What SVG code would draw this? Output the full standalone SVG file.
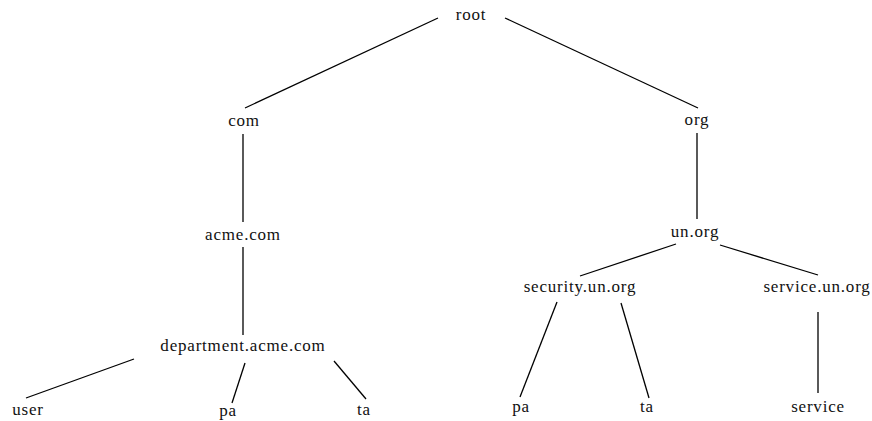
<svg xmlns="http://www.w3.org/2000/svg" width="872" height="421" viewBox="0 0 872 421">
<style>
line{stroke:#000;stroke-width:1.3}
</style>
<rect width="872" height="421" fill="#fff"/>
<g id="connectors">
<line x1="438" y1="18" x2="245" y2="108"/>
<line x1="505" y1="18" x2="698" y2="108"/>
<line x1="243" y1="134" x2="243" y2="222"/>
<line x1="243" y1="247" x2="243" y2="335"/>
<line x1="134" y1="359" x2="26" y2="398"/>
<line x1="245" y1="363" x2="232" y2="403"/>
<line x1="334" y1="361" x2="366" y2="399"/>
<line x1="697" y1="133" x2="697" y2="219"/>
<line x1="676" y1="244" x2="580" y2="276"/>
<line x1="720" y1="245" x2="818" y2="275"/>
<line x1="557" y1="302" x2="520" y2="397"/>
<line x1="621" y1="303" x2="649" y2="398"/>
<line x1="818" y1="312" x2="818" y2="393"/>
</g>
<g id="nodes" font-family="Liberation Serif, serif" font-size="17" letter-spacing="0.8" fill="#111" text-anchor="middle">
<g id="n-root"><text x="471" y="20">root</text></g>
<g id="n-com"><text x="244" y="126">com</text></g>
<g id="n-org"><text x="697" y="125">org</text></g>
<g id="n-acme"><text x="243" y="240">acme.com</text></g>
<g id="n-department"><text x="243" y="351">department.acme.com</text></g>
<g id="n-user"><text x="28" y="415">user</text></g>
<g id="n-pa1"><text x="228" y="416">pa</text></g>
<g id="n-ta1"><text x="364" y="415">ta</text></g>
<g id="n-unorg"><text x="695" y="237">un.org</text></g>
<g id="n-security"><text x="580" y="292">security.un.org</text></g>
<g id="n-service-un"><text x="817" y="292">service.un.org</text></g>
<g id="n-pa2"><text x="521" y="412">pa</text></g>
<g id="n-ta2"><text x="647" y="412">ta</text></g>
<g id="n-service"><text x="818" y="412">service</text></g>
</g>
</svg>
